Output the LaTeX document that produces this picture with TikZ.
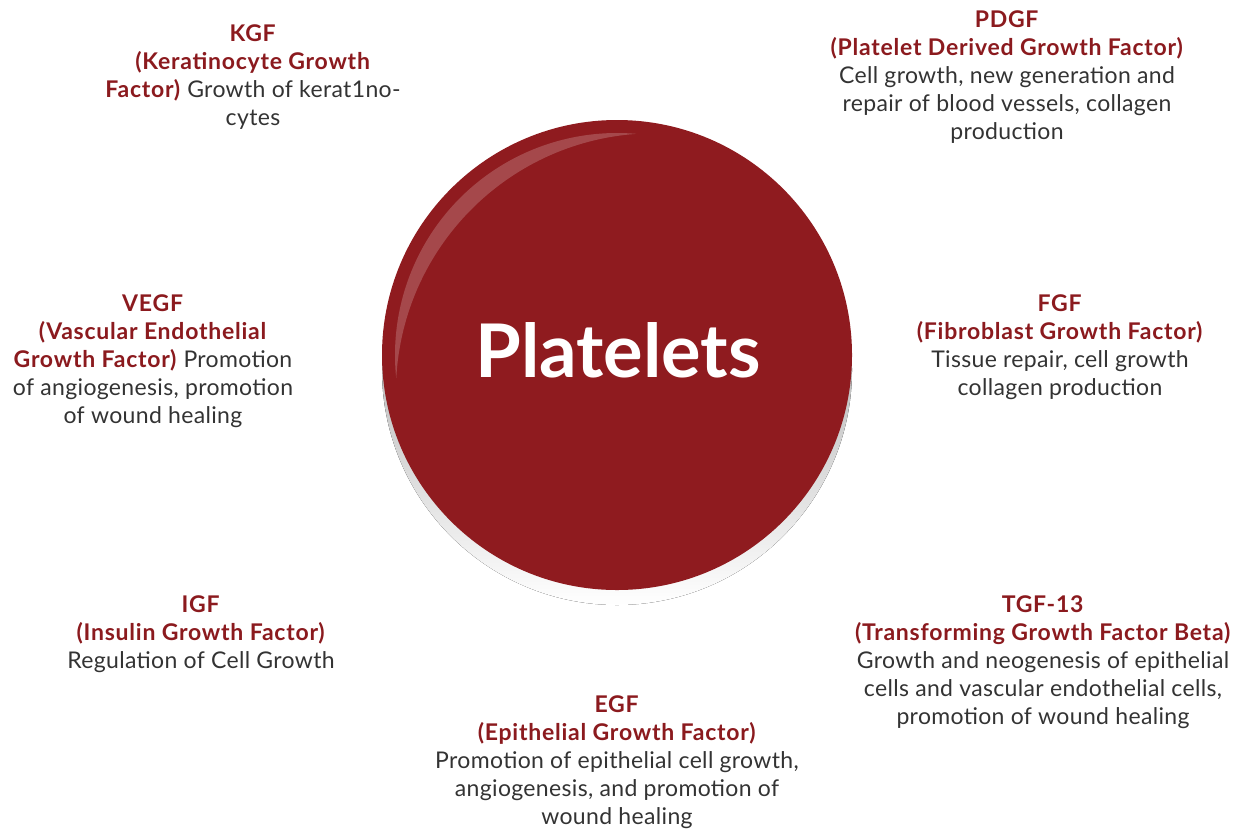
\documentclass[tikz,border=0pt]{standalone}
\usepackage{fontspec}
\setmainfont{Lato}[LetterSpace=1.5, BoldFeatures={LetterSpace=3.3}]
\newfontfamily\cellfont{Lato}[BoldFeatures={LetterSpace=0}]
\usepackage{xcolor}
\usepackage{tikz}
\usetikzlibrary{positioning,calc}
\definecolor{bloodred}{RGB}{143,27,31}
\definecolor{headred}{RGB}{139,26,30}
\definecolor{txtgray}{RGB}{51,51,51}
\definecolor{shade}{RGB}{229,229,229}
\newcommand{\hd}[1]{\textcolor{headred}{\textbf{#1}}}

\begin{document}
\begin{tikzpicture}[x=1pt, y=-1pt,
              factor/.style={anchor=north, align=center, inner sep=0pt, text=txtgray,
                             font=\fontsize{23}{28}\selectfont},
              disc/.style={fill=bloodred},
              gloss/.style={fill=white, fill opacity=0.2},
             ]
\useasboundingbox (0,0) rectangle (1241,828);
\coordinate (center) at (617,355);
% the cell
\fill[shade] ($(center)+(0,15)$) circle[radius=235];
\fill[disc] (center) circle[radius=235];
\fill[gloss] ($(center)+(174:222)$) arc[start angle=174, end angle=275, radius=222]
      -- ($(654.7,392)+(265.9:258.8)$) arc[start angle=265.9, end angle=183.1, radius=258.8] -- cycle;
\node[text=white, inner sep=0pt, anchor=base, font=\cellfont\bfseries\fontsize{74}{80}\selectfont] (plt) at (618,377) {Platelets};

% growth factors
\node[factor] (kgf) at (253,24) {\hd{KGF}\\\hd{(Keratinocyte Growth}\\\hd{Factor)} Growth of kerat1no-\\cytes};
\node[factor] (pdgf) at (1007,10) {\hd{PDGF}\\\hd{(Platelet Derived Growth Factor)}\\Cell growth, new generation and\\repair of blood vessels, collagen\\production};
\node[factor] (vegf) at (153,294) {\hd{VEGF}\\\hd{(Vascular Endothelial}\\\hd{Growth Factor)} Promotion\\of angiogenesis, promotion\\of wound healing};
\node[factor] (fgf) at (1060,294) {\hd{FGF}\\\hd{(Fibroblast Growth Factor)}\\Tissue repair, cell growth\\collagen production};
\node[factor] (igf) at (201,595) {\hd{IGF}\\\hd{(Insulin Growth Factor)}\\Regulation of Cell Growth};
\node[factor] (tgf) at (1043,595) {\hd{TGF-13}\\\hd{(Transforming Growth Factor Beta)}\\Growth and neogenesis of epithelial\\cells and vascular endothelial cells,\\promotion of wound healing};
\node[factor] (egf) at (617,695) {\hd{EGF}\\\hd{(Epithelial Growth Factor)}\\Promotion of epithelial cell growth,\\angiogenesis, and promotion of\\wound healing};
\end{tikzpicture}
\end{document}
